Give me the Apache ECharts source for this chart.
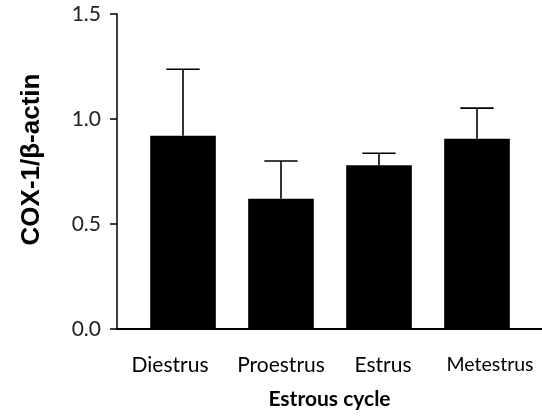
<!DOCTYPE html>
<html>
<head>
<meta charset="utf-8">
<script src="https://cdn.jsdelivr.net/npm/echarts@6/dist/echarts.min.js"></script>
<style>
  html, body { margin: 0; padding: 0; background: #fff; }
  #chart { width: 542px; height: 418px; }
</style>
</head>
<body>
<div id="chart"></div>
<script>
// 数据
var categories = ['Diestrus', 'Proestrus', 'Estrus', 'Metestrus'];
var means = [0.92, 0.62, 0.78, 0.906];
var upper = [1.237, 0.80, 0.837, 1.052];   // 均值 + SEM
var yTicks = [0, 0.5, 1.0, 1.5];

var chart = echarts.init(document.getElementById('chart'));

// 误差线数据 [index, mean, upper]
var errData = categories.map(function (c, i) { return [i, means[i], upper[i]]; });

var labelRich = {
    d: { fontFamily: 'Lato', fontSize: 21, color: '#000', padding: [0, 26, 0, 0] },
    p: { fontFamily: 'Lato', fontSize: 21, color: '#000' },
    e: { fontFamily: 'Lato', fontSize: 21, color: '#000', padding: [0, 0, 0, 8] },
    m: { fontFamily: 'Lato', fontSize: 19.5, color: '#000', padding: [0, 0, 6, 26] }
};
var keys = ['d', 'p', 'e', 'm'];

var option = {
    animation: false,
    grid: [
        { left: 134, right: 16, top: 14, bottom: 89 },   // 柱子
        { left: 117, right: 0, top: 14, bottom: 89 }     // 坐标轴线
    ],
    xAxis: [
        {
            type: 'category',
            gridIndex: 0,
            data: categories,
            axisLine: { show: false },
            axisTick: { show: false },
            axisLabel: {
                margin: 26,
                interval: 0,
                formatter: function (v, i) { return '{' + keys[i] + '|' + v + '}'; },
                rich: labelRich
            }
        },
        {
            type: 'value',
            gridIndex: 1,
            min: 0,
            max: 1,
            axisLine: { show: true, lineStyle: { color: '#000', width: 2 } },
            axisTick: { show: false },
            axisLabel: { show: false },
            splitLine: { show: false },
            name: 'Estrous cycle',
            nameLocation: 'middle',
            nameGap: 60,
            nameTextStyle: { fontFamily: 'Lato', fontWeight: 'bold', fontSize: 21, color: '#000' }
        }
    ],
    yAxis: [
        {
            type: 'value',
            gridIndex: 0,
            min: 0,
            max: 1.5,
            show: false
        },
        {
            type: 'value',
            gridIndex: 1,
            min: 0,
            max: 1.5,
            interval: 0.5,
            axisLine: { show: true, lineStyle: { color: '#000', width: 1.5 } },
            axisTick: { show: true, length: 7, lineStyle: { color: '#000', width: 1.5 } },
            splitLine: { show: false },
            axisLabel: {
                margin: 16,
                fontFamily: 'Lato',
                fontSize: 21,
                color: '#222',
                formatter: function (v) { return v.toFixed(1); }
            },
            name: 'COX-1/β-actin',
            nameLocation: 'middle',
            nameGap: 72,
            nameRotate: 90,
            nameTextStyle: {
                fontFamily: 'Liberation Sans',
                fontWeight: 'bold',
                fontSize: 26,
                color: '#000',
                padding: [0, 0, 0, 24]
            }
        }
    ],
    series: [
        {
            type: 'bar',
            xAxisIndex: 0,
            yAxisIndex: 0,
            data: means,
            barWidth: '67%',
            itemStyle: { color: '#000' },
            z: 2
        },
        {
            type: 'custom',
            xAxisIndex: 0,
            yAxisIndex: 0,
            data: errData,
            encode: { x: 0, y: [1, 2] },
            z: 3,
            renderItem: function (params, api) {
                var x = api.value(0);
                var lo = api.coord([x, api.value(1)]);
                var hi = api.coord([x, api.value(2)]);
                var half = api.size([1, 0])[0] * 0.34 / 2;
                var st = { stroke: '#000', lineWidth: 1.6 };
                return {
                    type: 'group',
                    children: [
                        { type: 'line', shape: { x1: hi[0], y1: hi[1], x2: lo[0], y2: lo[1] }, style: st },
                        { type: 'line', shape: { x1: hi[0] - half, y1: hi[1], x2: hi[0] + half, y2: hi[1] }, style: st }
                    ]
                };
            }
        }
    ]
};

chart.setOption(option);
</script>
</body>
</html>
